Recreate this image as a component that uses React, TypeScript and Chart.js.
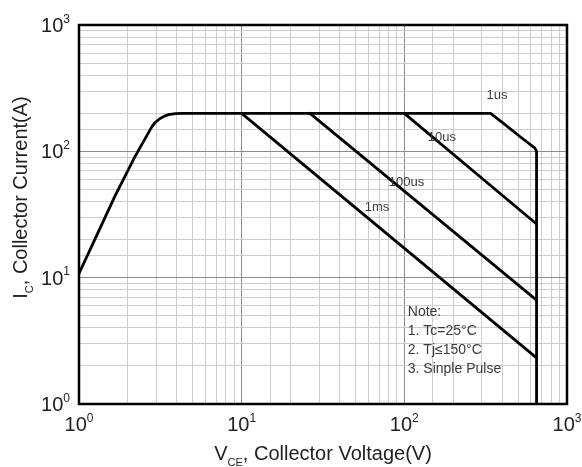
import { useEffect, useRef } from "react";
import { Chart, registerables } from "chart.js";

Chart.register(...registerables);

// Safe operating area: collector voltage VCE (V) vs collector current IC (A)
const boundaryVce = [1, 1.25, 1.66, 2.2, 2.8, 2.95, 3.15, 3.35, 3.55, 3.9, 4.3, 339, 396, 513, 635, 650, 650];
const boundaryIc = [10.8, 20, 44, 90, 156, 170, 182, 190, 195, 198.5, 200, 200, 171, 131, 106, 100, 1];
const pulse10usVce = [100, 650];
const pulse10usIc = [200, 26.6];
const pulse100usVce = [26.3, 650];
const pulse100usIc = [200, 6.65];
const pulse1msVce = [10, 650];
const pulse1msIc = [200, 2.32];

// Pulse-width labels placed beside their curves
const curveLabels = ["1us", "10us", "100us", "1ms"];
const curveLabelVce = [371, 170, 103, 68];
const curveLabelIc = [279, 130, 57, 36];

const noteLines = ["Note:", "1. Tc=25°C", "2. Tj≤150°C", "3. Sinple Pulse"];
const noteVce = 105;
const noteIc = 5.3;

const decadeTicks = [1, 10, 100, 1000];
const decadeExponents = ["0", "1", "2", "3"];

const FAMILY = '"Liberation Sans", Arial, Helvetica, sans-serif';
const font = (size: number) => `${size}px ${FAMILY}`;

type Run = { text: string; size: number; dy: number };

function runsWidth(ctx: CanvasRenderingContext2D, runs: Run[]) {
  let w = 0;
  for (const r of runs) {
    ctx.font = font(r.size);
    w += ctx.measureText(r.text).width;
  }
  return w;
}

function drawRuns(ctx: CanvasRenderingContext2D, runs: Run[], x: number, y: number) {
  let cx = x;
  for (const r of runs) {
    ctx.font = font(r.size);
    ctx.fillText(r.text, cx, y + r.dy);
    cx += ctx.measureText(r.text).width;
  }
}

const toPoints = (xs: number[], ys: number[]) => xs.map((x, i) => ({ x, y: ys[i] }));

const isDecade = (v: number) => Math.abs(Math.log10(v) - Math.round(Math.log10(v))) < 1e-9;

const annotations = {
  id: "soaAnnotations",
  afterDraw(chart: any) {
    const ctx: CanvasRenderingContext2D = chart.ctx;
    const { left, right, top, bottom } = chart.chartArea;
    const xs = chart.scales.x;
    const ys = chart.scales.y;
    ctx.save();

    // plot frame
    ctx.strokeStyle = "#000";
    ctx.lineWidth = 2.5;
    ctx.strokeRect(left, top, right - left, bottom - top);

    ctx.fillStyle = "#222";
    ctx.textAlign = "left";
    ctx.textBaseline = "alphabetic";

    // decade tick labels with superscript exponents
    decadeTicks.forEach((v, i) => {
      const runs: Run[] = [
        { text: "10", size: 20, dy: 0 },
        { text: decadeExponents[i], size: 12, dy: -9.5 },
      ];
      const w = runsWidth(ctx, runs);
      const py = ys.getPixelForValue(v);
      drawRuns(ctx, runs, left - 9 - w, py + 7);
      const px = xs.getPixelForValue(v);
      drawRuns(ctx, runs, px - w / 2, bottom + 27);
    });

    // x axis title
    const xTitle: Run[] = [
      { text: "V", size: 20, dy: 0 },
      { text: "CE", size: 11, dy: 6 },
      { text: ", Collector Voltage(V)", size: 20, dy: 0 },
    ];
    const xw = runsWidth(ctx, xTitle);
    drawRuns(ctx, xTitle, (left + right) / 2 - xw / 2, bottom + 56);

    // y axis title
    const yTitle: Run[] = [
      { text: "I", size: 20, dy: 0 },
      { text: "C", size: 11, dy: 6 },
      { text: ", Collector Current(A)", size: 20, dy: 0 },
    ];
    const yw = runsWidth(ctx, yTitle);
    ctx.save();
    ctx.translate(left - 52, (top + bottom) / 2 - 17);
    ctx.rotate(-Math.PI / 2);
    drawRuns(ctx, yTitle, -yw / 2, 0);
    ctx.restore();

    // curve labels
    ctx.fillStyle = "#3a3a3a";
    ctx.textAlign = "center";
    ctx.textBaseline = "middle";
    ctx.font = font(13);
    curveLabels.forEach((t, i) => {
      ctx.fillText(t, xs.getPixelForValue(curveLabelVce[i]), ys.getPixelForValue(curveLabelIc[i]));
    });

    // notes
    ctx.textAlign = "left";
    ctx.font = font(14);
    const nx = xs.getPixelForValue(noteVce);
    const ny = ys.getPixelForValue(noteIc);
    noteLines.forEach((t, i) => ctx.fillText(t, nx, ny + i * 19));

    ctx.restore();
  },
};

export default function App() {
  const canvasRef = useRef<HTMLCanvasElement | null>(null);

  useEffect(() => {
    if (!canvasRef.current) return;
    const line = (xs: number[], ys: number[]) => ({
      data: toPoints(xs, ys),
      showLine: true,
      borderColor: "#000",
      borderWidth: 2.8,
      borderJoinStyle: "round" as const,
      borderCapStyle: "round" as const,
      pointRadius: 0,
      fill: false,
      tension: 0,
    });
    const axis = {
      type: "logarithmic" as const,
      min: 1,
      max: 1000,
      border: { display: false },
      ticks: { display: false, autoSkip: false },
      title: { display: false },
      grid: {
        drawTicks: false,
        lineWidth: 1,
        color: (c: any) => (c.tick && isDecade(c.tick.value) ? "#8c8c8c" : "#cdcdcd"),
      },
    };
    const chart = new Chart(canvasRef.current, {
      type: "scatter",
      data: {
        datasets: [
          line(boundaryVce, boundaryIc),
          line(pulse10usVce, pulse10usIc),
          line(pulse100usVce, pulse100usIc),
          line(pulse1msVce, pulse1msIc),
        ],
      },
      options: {
        animation: false,
        responsive: false,
        events: [],
        layout: { padding: { left: 79, top: 25, right: 15, bottom: 63 } },
        plugins: { legend: { display: false }, tooltip: { enabled: false } },
        scales: { x: axis, y: axis },
      },
      plugins: [annotations],
    });
    return () => chart.destroy();
  }, []);

  return (
    <div style={{ position: "absolute", left: 0, top: 0, width: 582, height: 467, background: "#fff" }}>
      <canvas ref={canvasRef} width={582} height={467} />
    </div>
  );
}
